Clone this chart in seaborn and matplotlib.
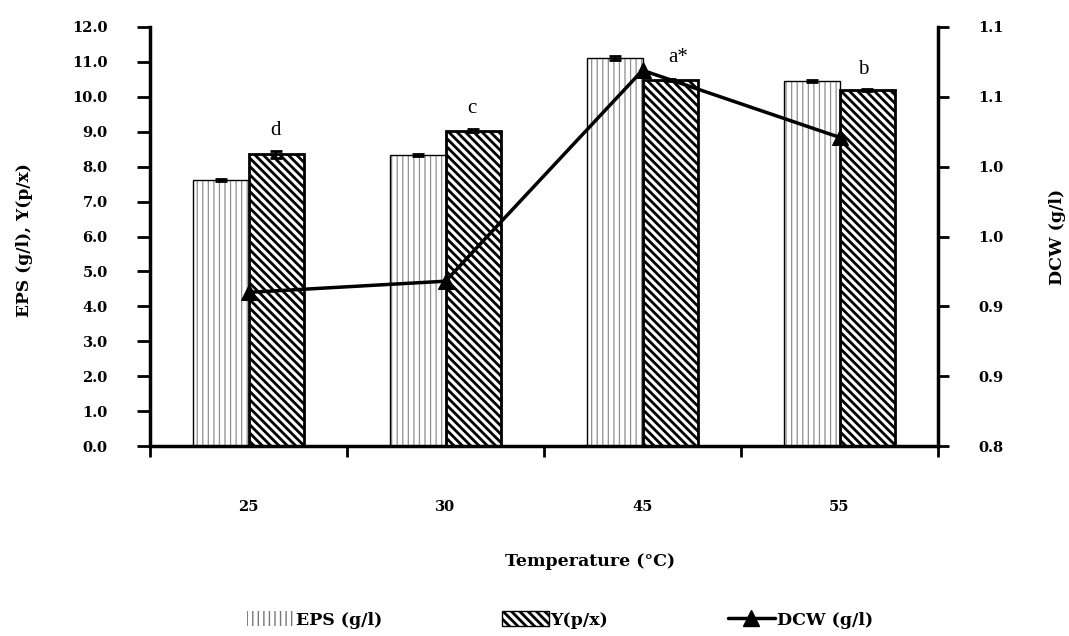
import numpy as np
import pandas as pd
import matplotlib
matplotlib.use('Agg')
import matplotlib.pyplot as plt
import seaborn as sns
from matplotlib.patches import Patch, Rectangle
from matplotlib.lines import Line2D

# ---------------- data ----------------
temperatures = ['25', '30', '45', '55']
eps = [7.62, 8.33, 11.11, 10.45]
eps_err = [0.02, 0.02, 0.05, 0.03]
yield_px = [8.36, 9.03, 10.48, 10.20]
yield_err = [0.10, 0.05, 0.03, 0.02]
dcw = [0.910, 0.918, 1.069, 1.021]
letters = ['d', 'c', 'a*', 'b']
letter_x = [0.137, 1.135, 2.18, 3.12]
letter_y = [9.05, 9.68, 11.12, 10.77]
left_ticks = list(range(0, 13))
right_ticks = [0.80, 0.85, 0.90, 0.95, 1.00, 1.05, 1.10]
right_tick_labels = ['0.8', '0.9', '0.9', '1.0', '1.0', '1.1', '1.1']
series_names = ['EPS (g/l)', 'Y(p/x)']

sns.set_theme(style='ticks')
plt.rcParams['font.family'] = ['Liberation Serif', 'DejaVu Serif']
plt.rcParams.update({'text.color': 'black', 'axes.labelcolor': 'black',
                     'xtick.color': 'black', 'ytick.color': 'black',
                     'legend.labelcolor': 'black'})
BOLD = {'family': ['DejaVu Serif'], 'weight': 'bold'}

W, H = 1069, 636
fig = plt.figure(figsize=(W / 100, H / 100), dpi=100)
ax = fig.add_axes([150 / W, 1 - 446 / H, (938 - 150) / W, (446 - 27) / H])

df = pd.DataFrame({
    'Temperature': temperatures * 2,
    'Series': [series_names[0]] * 4 + [series_names[1]] * 4,
    'value': eps + yield_px,
})
sns.barplot(data=df, x='Temperature', y='value', hue='Series', order=temperatures,
            hue_order=series_names, width=0.56, gap=0, palette=['white', 'white'],
            saturation=1, edgecolor='black', linewidth=1, errorbar=None,
            legend=False, ax=ax)


def set_hlw(p, w):
    if hasattr(p, 'set_hatch_linewidth'):
        p.set_hatch_linewidth(w)


EPS_HATCH_COLOR = '#8f8f8f'
eps_bars = ax.containers[0]
y_bars = ax.containers[1]
for b in eps_bars:
    b.set_hatch('|||')
    b.set_edgecolor(EPS_HATCH_COLOR)
    b.set_linewidth(0)
    set_hlw(b, 0.9)
    ax.add_patch(Rectangle((b.get_x(), 0), b.get_width(), b.get_height(),
                           fill=False, edgecolor='black', linewidth=1, zorder=b.get_zorder() + 0.1))
for b in y_bars:
    b.set_hatch('\\\\\\\\')
    b.set_edgecolor('black')
    b.set_linewidth(2)
    set_hlw(b, 2.0)

for bars, errs in ((eps_bars, eps_err), (y_bars, yield_err)):
    xs = [b.get_x() + b.get_width() / 2 for b in bars]
    hs = [b.get_height() for b in bars]
    ax.errorbar(xs, hs, yerr=errs, fmt='none', ecolor='black', elinewidth=1.5,
                capsize=4.5, capthick=2, zorder=5)

for lx, ly, t in zip(letter_x, letter_y, letters):
    ax.text(lx, ly, t, ha='center', va='center', fontsize=15, color='black', zorder=6)

# left axis
ax.set_ylim(0, 12)
ax.set_yticks(left_ticks)
ax.set_yticklabels([f'{v:.1f}' for v in left_ticks])
ax.tick_params(axis='y', direction='out', length=9.5, width=2, pad=21, colors='black')
for lab in ax.get_yticklabels():
    lab.set_fontproperties(BOLD)
    lab.set_fontsize(10.5)

# x axis
ax.set_xlim(-0.5, 3.5)
ax.set_xticks(np.arange(-0.5, 4, 1))
ax.set_xticklabels([])
ax.set_xticks(np.arange(4), minor=True)
ax.set_xticklabels(temperatures, minor=True)
ax.tick_params(axis='x', which='major', direction='out', length=8, width=2, color='black')
ax.tick_params(axis='x', which='minor', length=0, pad=39, labelcolor='black')
for lab in ax.get_xticklabels(minor=True):
    lab.set_fontproperties(BOLD)
    lab.set_fontsize(10.5)

ax.set_ylabel('EPS (g/l), Y(p/x)', fontdict={**BOLD, 'size': 12.3}, color='black')
ax.yaxis.label.set_va('center')
ax.yaxis.set_label_coords((25 - 150) / 788, (446 - 240) / 419)
ax.set_xlabel('Temperature (°C)', fontdict={**BOLD, 'size': 12.5}, color='black')
ax.xaxis.label.set_va('center')
ax.xaxis.set_label_coords((590 - 150) / 788, (446 - 562) / 419)

for s in ['left', 'bottom']:
    ax.spines[s].set_linewidth(2.5)
    ax.spines[s].set_color('black')
ax.spines['top'].set_visible(False)
ax.spines['right'].set_visible(False)

# right axis with DCW
ax2 = ax.twinx()
sns.lineplot(x=np.arange(len(dcw)), y=dcw, ax=ax2, color='black', linewidth=2.5,
             marker='^', markersize=11, markeredgecolor='black', zorder=7)
ax2.set_ylim(0.8, 1.1)
ax2.set_xlim(-0.5, 3.5)
ax2.set_yticks(right_ticks)
ax2.set_yticklabels(right_tick_labels)
ax2.tick_params(axis='y', direction='out', length=8, width=2, pad=21, colors='black')
for lab in ax2.get_yticklabels():
    lab.set_fontproperties(BOLD)
    lab.set_fontsize(10.5)
for s in ['left', 'bottom', 'top']:
    ax2.spines[s].set_visible(False)
ax2.spines['right'].set_linewidth(2.5)
ax2.spines['right'].set_color('black')
ax2.set_ylabel('DCW (g/l)', fontdict={**BOLD, 'size': 12.5}, rotation=90, color='black')
ax2.yaxis.label.set_va('center')
ax2.yaxis.set_label_coords((1058 - 150) / 788, (446 - 237) / 419)

# legend
h_eps = Patch(facecolor='white', edgecolor='#777777', hatch='|||', linewidth=0)
h_y = Patch(facecolor='white', edgecolor='black', hatch='\\\\\\\\', linewidth=1)
h_dcw = Line2D([0], [0], color='black', linewidth=2.5, marker='^', markersize=11)
leg = fig.legend([h_eps, h_y, h_dcw], ['EPS (g/l)', 'Y(p/x)', 'DCW (g/l)'],
                 loc='center', bbox_to_anchor=(560 / W, 1 - 620 / H), ncol=3, frameon=False,
                 handlelength=2.7, handleheight=0.9, handletextpad=0.1, columnspacing=6.9,
                 labelcolor='black',
                 prop={'family': ['DejaVu Serif'], 'weight': 'bold', 'size': 12.5})
lh = leg.legend_handles
set_hlw(lh[0], 1.0)
set_hlw(lh[1], 2.0)

fig.savefig('out.png', dpi=100)
